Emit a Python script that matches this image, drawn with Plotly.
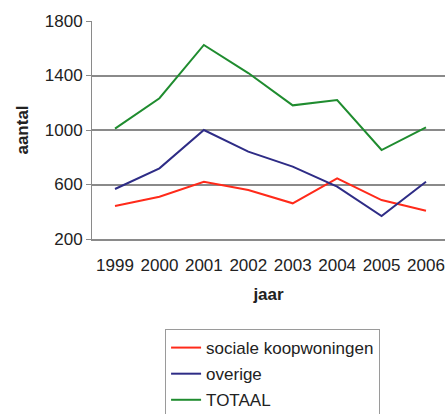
import plotly.graph_objects as go

# Jaarlijkse aantallen woningen
jaren = ["1999", "2000", "2001", "2002", "2003", "2004", "2005", "2006"]
sociale_koopwoningen = [442, 510, 620, 560, 462, 645, 486, 408]
overige = [567, 719, 1000, 841, 731, 584, 369, 620]
totaal = [1010, 1233, 1624, 1418, 1181, 1220, 853, 1020]

series = [
    ("sociale koopwoningen", sociale_koopwoningen, "#FF2A1A"),
    ("overige", overige, "#2E2C86"),
    ("TOTAAL", totaal, "#1F8C2F"),
]

FONT = "Liberation Sans, Arial, sans-serif"

fig = go.Figure()
for i, (naam, waarden, kleur) in enumerate(series):
    fig.add_trace(go.Scatter(
        x=jaren, y=waarden, name=naam, mode="lines",
        line=dict(color=kleur, width=2),
        legendgroup=f"g{i}",
    ))

fig.update_layout(
    width=445, height=414,
    margin=dict(l=92, r=0, t=21, b=175, autoexpand=False),
    paper_bgcolor="white", plot_bgcolor="white",
    font=dict(family=FONT, size=17, color="#222222"),
    showlegend=True,
    legend=dict(
        x=0.207, y=-0.413, xanchor="left", yanchor="top",
        bordercolor="#9a9a9a", borderwidth=1,
        font=dict(size=17, color="#222222"),
        tracegroupgap=1, itemwidth=30,
    ),
)

fig.update_xaxes(
    type="category", range=[-0.518, 7.428], automargin=False,
    showgrid=False, ticks="", ticklabelstandoff=10,
    showline=True, linecolor="#8a8a8a", linewidth=2,
    tickfont=dict(size=17),
    title=dict(text="<b>jaar</b>", font=dict(size=17), standoff=14),
)
fig.update_yaxes(
    range=[200, 1800], tickvals=[200, 600, 1000, 1400, 1800], automargin=False,
    showgrid=True, gridcolor="#8a8a8a", gridwidth=2,
    ticks="outside", ticklen=5, tickcolor="#8a8a8a", tickwidth=1,
    showline=True, linecolor="#8a8a8a", linewidth=1,
    zeroline=False, tickfont=dict(size=17),
    title=dict(text="<b>aantal</b>", font=dict(size=17), standoff=11),
)

fig.write_html("out.html")
